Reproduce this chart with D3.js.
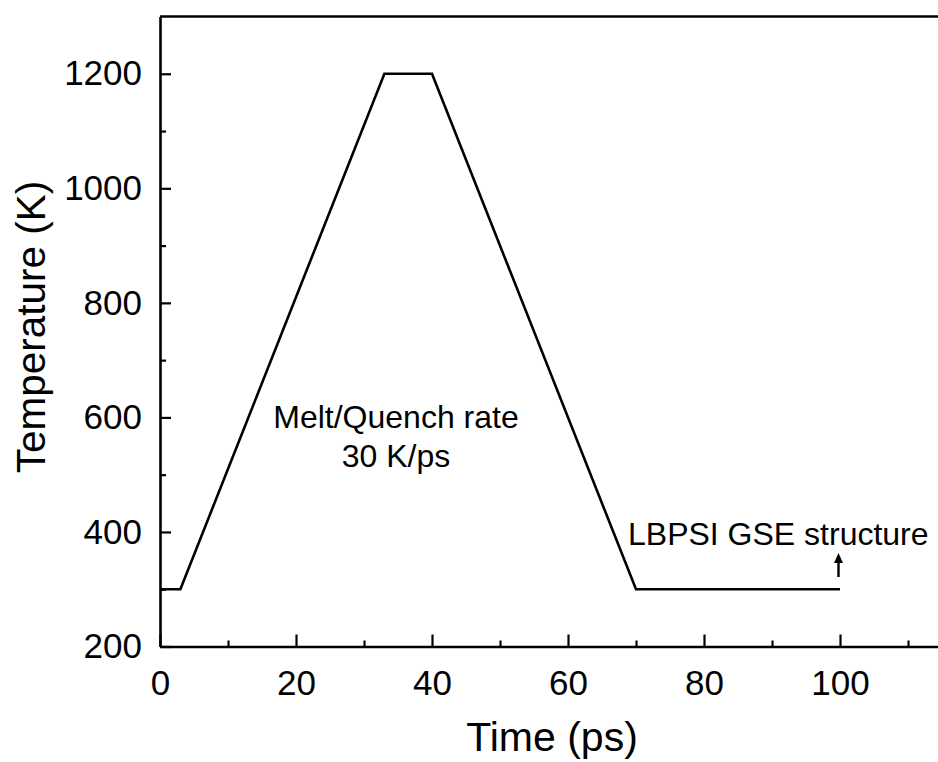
<!DOCTYPE html>
<html>
<head>
<meta charset="utf-8">
<script src="https://cdn.jsdelivr.net/npm/d3@7"></script>
<style>
  html, body { margin: 0; padding: 0; background: #fff; }
  svg { display: block; }
  text { font-family: "Liberation Sans", Arial, sans-serif; fill: #000; }
</style>
</head>
<body>
<div id="chart"></div>
<script>
// Data
const timePs = [0, 3, 33, 40, 70, 100];
const tempK = [300, 300, 1200, 1200, 300, 300];
const xMajorTicks = [0, 20, 40, 60, 80, 100];
const xMinorTicks = [10, 30, 50, 70, 90, 110];
const yMajorTicks = [200, 400, 600, 800, 1000, 1200];
const yMinorTicks = [300, 500, 700, 900, 1100];
const xTitle = "Time (ps)";
const yTitle = "Temperature (K)";
const noteLines = ["Melt/Quench rate", "30 K/ps"];
const structLabel = "LBPSI GSE structure";

(function () {
const W = 938, H = 762;
const padL = 160, padB = 646.5, padT = 16.5;

const svg = d3.select("#chart").append("svg").attr("width", W).attr("height", H);

const x = d3.scaleLinear().domain([0, 120]).range([padL, padL + 120 * 6.8]);
const y = d3.scaleLinear().domain([200, 1300]).range([padB, padT]);

// Frame (top, right edge falls outside the image)
const frame = svg.append("g").attr("stroke", "#000").attr("stroke-width", 2.6).attr("fill", "none");
frame.append("line").attr("x1", x(0)).attr("x2", x(120)).attr("y1", y(1300)).attr("y2", y(1300));
frame.append("line").attr("x1", x(120)).attr("x2", x(120)).attr("y1", y(1300)).attr("y2", y(200));

// X axis
const xAxis = svg.append("g").attr("transform", `translate(0,${padB})`)
  .call(d3.axisBottom(x).tickValues(xMajorTicks).tickSizeInner(-12).tickSizeOuter(0).tickPadding(24).tickFormat(d3.format("d")));
xAxis.select(".domain").attr("stroke-width", 2.6);
xAxis.selectAll(".tick line").attr("stroke-width", 2.2);
xAxis.selectAll(".tick text").attr("font-size", 35).attr("font-family", '"Liberation Sans", Arial, sans-serif').attr("dy", "0.71em");
svg.append("g").attr("transform", `translate(0,${padB})`)
  .call(d3.axisBottom(x).tickValues(xMinorTicks).tickSizeInner(-6).tickSizeOuter(0).tickFormat(""))
  .call(g => g.select(".domain").remove())
  .selectAll(".tick line").attr("stroke-width", 2.2);

// Y axis
const yAxis = svg.append("g").attr("transform", `translate(${padL},0)`)
  .call(d3.axisLeft(y).tickValues(yMajorTicks).tickSizeInner(-11).tickSizeOuter(0).tickPadding(18).tickFormat(d3.format("d")));
yAxis.select(".domain").attr("stroke-width", 2.6);
yAxis.selectAll(".tick line").attr("stroke-width", 2.2);
yAxis.selectAll(".tick text").attr("font-size", 35).attr("font-family", '"Liberation Sans", Arial, sans-serif');
svg.append("g").attr("transform", `translate(${padL},0)`)
  .call(d3.axisLeft(y).tickValues(yMinorTicks).tickSizeInner(-6).tickSizeOuter(0).tickFormat(""))
  .call(g => g.select(".domain").remove())
  .selectAll(".tick line").attr("stroke-width", 2.2);

// Axis titles
svg.append("text").attr("x", 552).attr("y", 751).attr("text-anchor", "middle")
  .attr("font-size", 41).text(xTitle);
svg.append("text").attr("transform", `translate(45,327) rotate(-90)`)
  .attr("text-anchor", "middle").attr("font-size", 40.5).text(yTitle);

// Data line
const line = d3.line().x((d, i) => x(timePs[i])).y((d, i) => y(tempK[i]));
svg.append("path").datum(tempK).attr("d", line)
  .attr("fill", "none").attr("stroke", "#000").attr("stroke-width", 2.6).attr("stroke-linejoin", "miter");

// Annotations
svg.append("text").attr("x", 396).attr("y", 428).attr("text-anchor", "middle").attr("font-size", 32).text(noteLines[0]);
svg.append("text").attr("x", 396).attr("y", 467).attr("text-anchor", "middle").attr("font-size", 32).text(noteLines[1]);
svg.append("text").attr("x", 628).attr("y", 545).attr("font-size", 32).text(structLabel);

// Arrow pointing to the end of the run
const ax = x(100) - 1.5;
svg.append("line").attr("x1", ax).attr("x2", ax).attr("y1", 577).attr("y2", 556)
  .attr("stroke", "#000").attr("stroke-width", 2.4);
svg.append("path").attr("d", `M${ax},553 L${ax - 4.5},563 L${ax + 4.5},563 Z`).attr("fill", "#000");
})();
</script>
</body>
</html>
